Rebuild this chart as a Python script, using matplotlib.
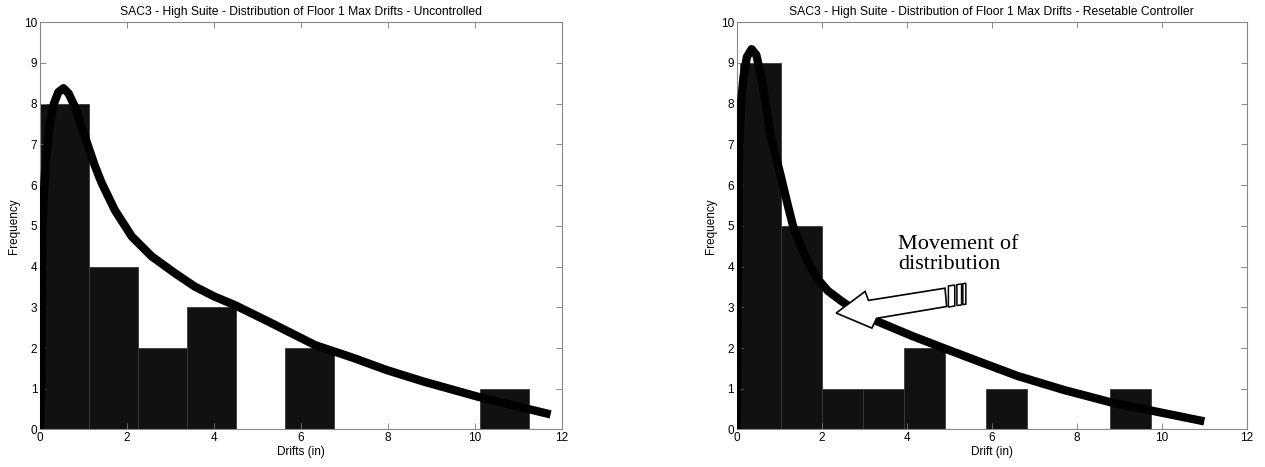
import matplotlib.pyplot as plt
import numpy as np
from matplotlib.patches import Polygon

# histogram counts (10 bins each)
unc_counts = [8, 4, 2, 3, 0, 2, 0, 0, 0, 1]
unc_start, unc_width = 0.0, 1.125
ctl_counts = [9, 5, 1, 1, 2, 0, 1, 0, 0, 1]
ctl_start, ctl_width = 0.07, 0.967

# fitted distribution curves
unc_fit_x = [0.0, 0.03, 0.04, 0.05, 0.08, 0.115, 0.17, 0.23, 0.32, 0.42, 0.54, 0.66,
             0.80, 0.95, 1.11, 1.26, 1.42, 1.72, 2.11, 2.57, 3.10, 3.56, 4.0, 4.49,
             5.27, 6.33, 7.2, 7.97, 8.81, 10.05, 11.74]
unc_fit_y = [0.0, 1.0, 2.2, 4.66, 5.6, 6.29, 7.0, 7.52, 8.0, 8.28, 8.38, 8.25,
             7.93, 7.45, 6.95, 6.48, 6.05, 5.39, 4.74, 4.25, 3.84, 3.51, 3.27, 3.05,
             2.64, 2.07, 1.76, 1.46, 1.18, 0.81, 0.37]

ctl_fit_x = [0.0, 0.015, 0.035, 0.06, 0.10, 0.16, 0.24, 0.35, 0.46, 0.59, 0.80,
             1.02, 1.21, 1.33, 1.61, 1.88, 2.15, 2.43, 2.7, 3.25, 4.12, 4.94,
             5.8, 6.62, 7.7, 8.83, 11.0]
ctl_fit_y = [0.0, 2.0, 4.6, 7.03, 8.0, 8.67, 9.15, 9.34, 9.2, 8.6, 7.2,
             6.29, 5.47, 4.98, 4.25, 3.72, 3.40, 3.18, 2.98, 2.68, 2.30, 1.97,
             1.63, 1.31, 0.97, 0.66, 0.2]

titles = ['SAC3 - High Suite - Distribution of Floor 1 Max Drifts - Uncontrolled',
          'SAC3 - High Suite - Distribution of Floor 1 Max Drifts - Resetable Controller']
xlabels = ['Drifts (in)', 'Drift (in)']

# hollow arrow on the right plot
arrow_pts = [(2.34, 2.86), (3.02, 3.39), (3.10, 3.17), (4.90, 3.47),
             (4.94, 3.02), (3.29, 2.73), (3.18, 2.49)]
stripes = [(4.98, 5.13), (5.18, 5.29), (5.32, 5.39)]

plt.rcParams['font.family'] = ['Liberation Sans', 'DejaVu Sans']

fig = plt.figure(figsize=(12.65, 4.67), dpi=100)
ax1 = fig.add_axes([0.0316, 0.0803, 0.4126, 0.872])
ax2 = fig.add_axes([0.5824, 0.0803, 0.4032, 0.872])

data = [(ax1, unc_counts, unc_start, unc_width, unc_fit_x, unc_fit_y),
        (ax2, ctl_counts, ctl_start, ctl_width, ctl_fit_x, ctl_fit_y)]

for i, (ax, counts, start, width, fx, fy) in enumerate(data):
    edges = start + width * np.arange(len(counts))
    ax.bar(edges, counts, width=width, align='edge', color='#111111',
           edgecolor='#3a3a3a', linewidth=0.6, zorder=1)
    ax.plot(fx, fy, color='black', linewidth=6, solid_capstyle='butt',
            solid_joinstyle='round', zorder=3)
    ax.set_xlim(0, 12)
    ax.set_ylim(0, 10)
    ax.set_xticks(np.arange(0, 13, 2))
    ax.set_yticks(np.arange(0, 11, 1))
    ax.tick_params(direction='in', length=4, width=0.6, color='#777777',
                   top=True, right=True, labelsize=8.5, pad=2)
    for sp in ax.spines.values():
        sp.set_color('#888888')
        sp.set_linewidth(0.8)
    ax.set_title(titles[i], fontsize=8.7, pad=5)
    ax.set_xlabel(xlabels[i], fontsize=8.5, labelpad=1)
    ax.set_ylabel('Frequency', fontsize=8.5, labelpad=3)

# annotation on the controlled plot
ax2.add_patch(Polygon(arrow_pts, closed=True, facecolor='white',
                      edgecolor='black', linewidth=1.2, zorder=5))
up = arrow_pts[2:4]
lo = arrow_pts[4:6]
slope_up = (up[1][1] - up[0][1]) / (up[1][0] - up[0][0])
slope_lo = (lo[0][1] - lo[1][1]) / (lo[0][0] - lo[1][0])
for x0, x1 in stripes:
    hi0 = up[1][1] + (x0 - up[1][0]) * slope_up + 0.04
    hi1 = up[1][1] + (x1 - up[1][0]) * slope_up + 0.04
    lo0 = lo[0][1] + (x0 - lo[0][0]) * slope_lo - 0.02
    lo1 = lo[0][1] + (x1 - lo[0][0]) * slope_lo - 0.02
    ax2.add_patch(Polygon([(x0, lo0), (x1, lo1), (x1, hi1), (x0, hi0)],
                          closed=True, facecolor='white', edgecolor='black',
                          linewidth=1.1, zorder=5))
ax2.text(3.8, 4.3, 'Movement of\ndistribution', fontsize=16,
         family=['Liberation Serif', 'DejaVu Serif'], va='center', ha='left',
         linespacing=1.05, zorder=6)

fig.savefig('out.png', dpi=100)
